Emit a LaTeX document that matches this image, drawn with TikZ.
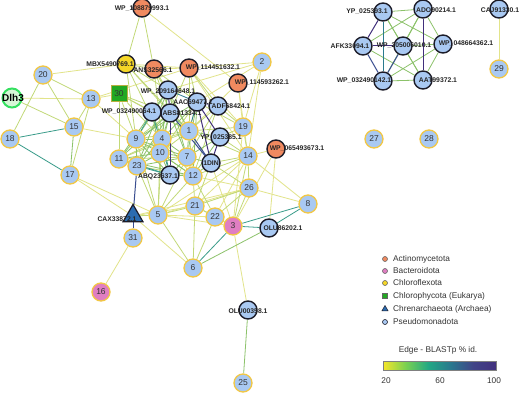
\documentclass[tikz,border=0pt]{standalone}
\usepackage{fontspec}
\setmainfont{Liberation Sans}
\usetikzlibrary{shapes.geometric}
\definecolor{nblue}{HTML}{A9C9F2}
\definecolor{ybord}{HTML}{F2C744}
\definecolor{dbord}{HTML}{1C1C28}
\definecolor{orng}{HTML}{F08A60}
\definecolor{pnk}{HTML}{E07EC2}
\definecolor{chlx}{HTML}{F5D727}
\definecolor{gsq}{HTML}{22A822}
\definecolor{gsqb}{HTML}{B8B040}
\definecolor{tri}{HTML}{2B6CB0}
\definecolor{dlhring}{HTML}{35E060}
\definecolor{dlhfill}{HTML}{D6F7D6}
\definecolor{ey1}{HTML}{E2E48A}
\definecolor{ey2}{HTML}{C2D978}
\definecolor{eg1}{HTML}{8CC26A}
\definecolor{et1}{HTML}{3A9C8A}
\definecolor{et2}{HTML}{2A7A8E}
\definecolor{eb1}{HTML}{3A4E90}
\definecolor{ep1}{HTML}{41307C}
\definecolor{v0}{HTML}{F6E62A}
\definecolor{v1}{HTML}{7AD151}
\definecolor{v2}{HTML}{22A884}
\definecolor{v3}{HTML}{2A788E}
\definecolor{v4}{HTML}{414487}
\definecolor{v5}{HTML}{42307E}
\pgfdeclarehorizontalshading{virr}{100bp}{color(0bp)=(v0); color(25bp)=(v0); color(35bp)=(v1); color(45bp)=(v2); color(55bp)=(v3); color(65bp)=(v4); color(75bp)=(v5); color(100bp)=(v5)}
\pgfdeclarelayer{back}
\pgfdeclarelayer{bg}
\pgfsetlayers{back,bg,main}
\tikzset{
  num/.style={circle, fill=nblue, draw=ybord, line width=1.3pt, minimum size=18pt, inner sep=0pt, font=\fontsize{8.5}{9}\selectfont, text=black!80},
  numpink/.style={num, fill=pnk},
  acc/.style={circle, fill=nblue, draw=dbord, line width=1.4pt, minimum size=18pt, inner sep=0pt},
  accor/.style={acc, fill=orng},
  accy/.style={acc, fill=chlx},
  lab/.style={inner sep=0pt, font=\bfseries\fontsize{6.8}{7}\selectfont, text=black!85},
  edge/.style={line width=0.8pt},
  legtxt/.style={anchor=west, inner sep=0pt, font=\fontsize{8.3}{9}\selectfont, text=black!80},
  legmark/.style={circle, draw=black!60, line width=0.6pt, minimum size=5pt, inner sep=0pt}
}
\begin{document}
\begin{tikzpicture}[x=1pt,y=-1pt]
\begin{pgfonlayer}{back}
\fill[white] (0,0) rectangle (520,393);
\end{pgfonlayer}
\useasboundingbox (0,0) rectangle (520,393);
% numbered nodes
\node[num] (n1) at (189,131) {1};
\node[num] (n2) at (262,62) {2};
\node[numpink] (n3) at (233,226) {3};
\node[num] (n4) at (162,139) {4};
\node[num] (n5) at (158,215) {5};
\node[num] (n6) at (193,268) {6};
\node[num] (n7) at (187,157) {7};
\node[num] (n8) at (308,204) {8};
\node[num] (n9) at (136,139) {9};
\node[num] (n10) at (160,153) {10};
\node[num] (n11) at (119,159) {11};
\node[num] (n12) at (193,176) {12};
\node[num] (n13) at (91,99) {13};
\node[num] (n14) at (248,156) {14};
\node[num] (n15) at (74,127) {15};
\node[numpink] (n16) at (101,292) {16};
\node[num] (n17) at (70,175) {17};
\node[num] (n18) at (10,139) {18};
\node[num] (n19) at (243,127) {19};
\node[num] (n20) at (43,75) {20};
\node[num] (n21) at (195,206) {21};
\node[num] (n22) at (215,217) {22};
\node[num] (n23) at (137,166) {23};
\node[num] (n25) at (243,383) {25};
\node[num] (n26) at (249,188) {26};
\node[num] (n27) at (374,139) {27};
\node[num] (n28) at (429,139) {28};
\node[num] (n29) at (499,69) {29};
\node[rectangle, fill=gsq, draw=gsqb, line width=1pt, minimum size=16pt, inner sep=0pt, font=\fontsize{8.5}{9}\selectfont, text=black!80] (n30) at (119,94) {30};
\node[num] (n31) at (133,238) {31};
% accession nodes
\node[accor] (wp1088) at (142,8) {};
\node[accy] (mbx) at (126,64) {};
\node[accor] (ans) at (154,69) {};
\node[accor] (wp1144) at (189,68) {};
\node[accor] (wp1145) at (238,83) {};
\node[acc] (wp2091) at (168,90) {};
\node[acc] (aac) at (197,102) {};
\node[acc] (adf) at (218,106) {};
\node[acc] (wp0324a) at (152,112) {};
\node[acc] (abs) at (170,113) {};
\node[acc] (yp385) at (220,137) {};
\node[acc] (din) at (211,163) {};
\node[acc] (abq) at (170,175) {};
\node[accor] (wp0654) at (276,149) {};
\node[acc] (olu86) at (269,228) {};
\node[acc] (olu00) at (248,310) {};
\node[regular polygon, regular polygon sides=3, fill=tri, draw=dbord, line width=1.2pt, minimum size=23pt, inner sep=0pt] (cax) at (133,216) {};
\node[circle, fill=dlhfill, draw=dlhring, line width=2pt, minimum size=19pt, inner sep=0pt] (dlh3) at (12,98) {};
\node[acc] (yp393) at (383,12) {};
\node[acc] (ado) at (423,9) {};
\node[acc] (caj) at (499,9) {};
\node[acc] (afk) at (363,46) {};
\node[acc] (wp2050) at (403,46) {};
\node[acc] (wp0486) at (443,44) {};
\node[acc] (wp0324b) at (383,81) {};
\node[acc] (aat) at (423,80) {};
% edges
\begin{pgfonlayer}{bg}
\foreach \a/\b in {n20/mbx, n13/wp1144, n15/n9, n17/cax, n17/n5, n31/n16, cax/n6, cax/n21, cax/n26, n2/wp2091, n2/aac, n2/n19, n2/n14, wp1145/n19, wp1145/n14, wp1145/n1, wp1144/n19, wp1144/n14, wp0654/n14, wp0654/olu86, wp0654/n3, n3/olu00, n14/n8, n26/n8, n5/n22, n5/n3, n5/n14, n5/n26, n21/n14, n22/n14, n13/n9, mbx/wp1144, ans/wp1144, wp1088/wp1145, caj/n29, n19/n3, din/n3, n12/n26, n30/n13, dlh3/n13, n2/wp1144}
  \draw[edge, ey1] (\a) -- (\b);
\foreach \a/\b in {n20/n13, n20/n15, n20/n18, dlh3/n15, n13/n15, n13/n17, mbx/n9, mbx/n4, mbx/n1, mbx/abs, mbx/wp2091, mbx/ans, ans/n4, ans/n1, ans/abs, ans/aac, ans/wp2091, wp1144/n1, wp1144/aac, wp1144/adf, wp1144/abs, n30/n9, n30/n4, n30/wp0324a, n30/abs, n30/n1, n30/n11, wp1088/mbx, wp1088/ans, n19/adf, n19/aac, n19/yp385, n19/n14, n19/n1, n14/n1, n14/yp385, n14/din, n14/n12, n14/n26, n14/n3, n26/n21, n26/n22, n26/n3, n26/din, n21/n22, n21/n5, n21/n12, n21/din, n22/n12, n22/n3, n5/n12, n5/n7, n5/n9, n5/n10, n5/n23, n5/n4, n5/cax, n5/n6, n6/n22, n6/n21, n12/n1, n12/n4, n12/n10, n12/n23, n23/n9, n11/n4, n11/n1, n11/n7, n1/adf, n1/aac, n9/n1, n10/n1, n4/n1, n9/abs, n10/aac, adf/n12, adf/n7, n3/n21}
  \draw[edge, ey2] (\a) -- (\b);
\foreach \a/\b in {n15/n17, n9/n4, n9/n10, n9/n11, n9/n23, n9/n7, n4/n10, n4/n7, n4/n23, n10/n7, n10/n11, n10/n23, n10/n12, n11/n23, n7/n1, n7/n12, n4/abs, n9/wp2091, n4/wp2091, n10/abs, n11/abs, n7/abs, n1/abs, n1/wp2091, n7/aac, n4/aac, n11/wp0324a, n10/wp0324a, n12/abq, n7/yp385, n12/yp385, n7/din, n12/din, n1/yp385, n23/wp2091, wp0324a/wp2091, abq/n9, abq/n10, abq/n7, n9/aac, n10/wp2091, n11/n12, n23/n7, n4/wp0324a, n23/abs, n7/wp2091, n12/aac, olu00/n25, n6/olu86, yp393/ado, yp393/wp2050, yp393/wp0486, yp393/aat, ado/afk, ado/wp2050, ado/wp0486, ado/wp0324b, afk/aat, wp2050/aat, wp2050/wp0486, wp0486/aat, wp0486/wp0324b, wp0324b/aat}
  \draw[edge, eg1] (\a) -- (\b);
\foreach \a/\b in {n18/n15, n18/n17, n3/n6, n3/olu86, n3/n8, n8/olu86, n23/abq, n9/wp0324a, n11/abq, wp0324a/abq, n4/abq}
  \draw[edge, et1] (\a) -- (\b);
\foreach \a/\b in {yp393/wp0324b, wp2091/aac, n1/aac}
  \draw[edge, et2] (\a) -- (\b);
\foreach \a/\b in {wp2050/wp0324b, afk/wp0324b, cax/n31, abs/din, wp0324a/abs, n1/din, cax/n23}
  \draw[edge, eb1, line width=1pt] (\a) -- (\b);
\foreach \a/\b in {abs/abq, aac/din, aac/yp385, yp385/din, yp393/afk, afk/wp2050, ado/aat, wp2091/abs, adf/aac}
  \draw[edge, ep1, line width=1pt] (\a) -- (\b);
\end{pgfonlayer}
% labels
\node[lab] (lwp1088) at (142,9) {WP\_108879993.1};
\node[lab] (lmbx) at (110,64) {MBX5490769.1};
\node[lab] (lans) at (153,70) {ANS32566.1};
\node[lab] (lwp1144) at (213,68) {WP\_114451632.1};
\node[lab] (lwp1145) at (262,83) {WP\_114593262.1};
\node[lab] (lwp2091) at (168,92) {WP\_209164648.1};
\node[lab] (laac) at (193,102) {AAC69477.1};
\node[lab] (ladf) at (231,106) {ADF68424.1};
\node[lab] (lwp0324a) at (129,112) {WP\_032490064.1};
\node[lab] (labs) at (182,113) {ABS81334.1};
\node[lab] (lyp385) at (221,138) {YP\_025385.1};
\node[lab] (ldin) at (211,163) {1DIN};
\node[lab] (labq) at (158,177) {ABQ23637.1};
\node[lab] (lwp0654) at (297,149) {WP\_065493673.1};
\node[lab] (lolu86) at (283,228) {OLU86202.1};
\node[lab] (lolu00) at (248,311) {OLU00358.1};
\node[lab] (lcax) at (117,219) {CAX33872.1};
\node[inner sep=0pt, font=\bfseries\fontsize{10}{11}\selectfont] (ldlh3) at (13,98) {Dlh3};
\node[lab] (lyp393) at (367,12) {YP\_025393.1};
\node[lab] (lado) at (436,10) {ADO90214.1};
\node[lab] (lcaj) at (500,10) {CAJ91330.1};
\node[lab] (lafk) at (350,46) {AFK33094.1};
\node[lab] (lwp2050) at (404,46) {WP\_205006010.1};
\node[lab] (lwp0486) at (466,44) {WP\_048664362.1};
\node[lab] (lwp0324b) at (364,81) {WP\_032490142.1};
\node[lab] (laat) at (438,80) {AAT99372.1};
% legend
\node[legmark, fill=orng] (m1) at (385,259) {};
\node[legtxt] (t1) at (393,259) {Actinomycetota};
\node[legmark, fill=pnk] (m2) at (385,271) {};
\node[legtxt] (t2) at (393,271) {Bacteroidota};
\node[legmark, fill=chlx] (m3) at (385,283) {};
\node[legtxt] (t3) at (393,283) {Chloroflexota};
\node[rectangle, fill=gsq, draw=black!60, line width=0.6pt, minimum size=5pt, inner sep=0pt] (m4) at (385,296) {};
\node[legtxt] (t4) at (393,296) {Chlorophycota (Eukarya)};
\node[regular polygon, regular polygon sides=3, fill=tri, draw=dbord, line width=0.5pt, minimum size=7pt, inner sep=0pt] (m5) at (385,309) {};
\node[legtxt] (t5) at (393,309) {Chrenarchaeota (Archaea)};
\node[legmark, fill=nblue, draw=dbord] (m6) at (385,322) {};
\node[legtxt] (t6) at (393,322) {Pseudomonadota};
\node[inner sep=0pt, font=\fontsize{8.3}{9}\selectfont, text=black!80] (cbt) at (438,350) {Edge - BLASTp \% id.};
\shade[shading=virr, draw=black!50, line width=0.4pt] (383,361) rectangle (496,370);
\node[inner sep=0pt, font=\fontsize{8.3}{9}\selectfont, text=black!80] (c20) at (386,381) {20};
\node[inner sep=0pt, font=\fontsize{8.3}{9}\selectfont, text=black!80] (c60) at (440,381) {60};
\node[inner sep=0pt, font=\fontsize{8.3}{9}\selectfont, text=black!80] (c100) at (494,381) {100};
\end{tikzpicture}
\end{document}
